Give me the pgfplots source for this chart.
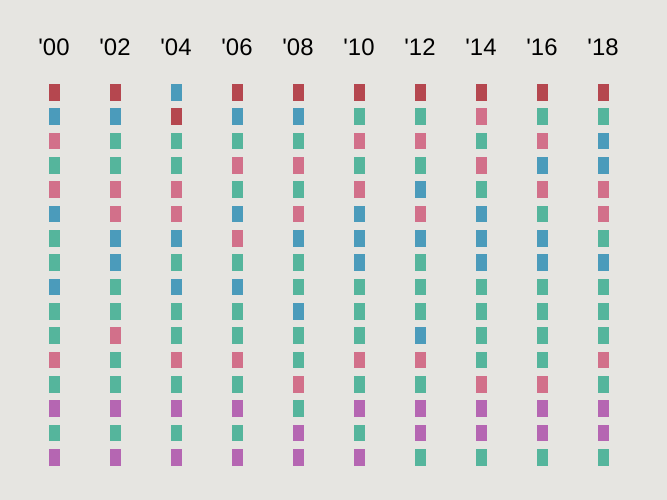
\documentclass[border=0pt]{standalone}
\usepackage{fontspec}
\setmainfont{Liberation Sans}
\usepackage{pgfplots}
\pgfplotsset{compat=1.18}
\definecolor{bg}{HTML}{E6E5E1}
\definecolor{cR}{HTML}{B5474F}
\definecolor{cB}{HTML}{4B9BBB}
\definecolor{cP}{HTML}{D2708A}
\definecolor{cG}{HTML}{55B59C}
\definecolor{cM}{HTML}{B566B2}
\tikzset{lbl/.style={font=\fontsize{24}{27}\selectfont, text=black}}
\begin{document}
\begin{tikzpicture}
\fill[bg] (0,0) rectangle (667bp,500bp);
\begin{axis}[at={(0,0)}, anchor=south west,
  width=667bp, height=500bp, scale only axis,
  hide axis, y dir=reverse,
  xmin=-0.885, xmax=10.049, ymin=-2.781, ymax=17.767,
  clip=false,
  every axis plot/.append style={only marks, mark=square*, mark size=5bp},
]
\addplot[mark options={yscale=1.55, fill=cR, draw=cR}] coordinates {(0,1)(1,1)(2,2)(3,1)(4,1)(5,1)(6,1)(7,1)(8,1)(9,1)};
\addplot[mark options={yscale=1.55, fill=cB, draw=cB}] coordinates {
(0,2)(0,6)(0,9)
(1,2)(1,7)(1,8)
(2,1)(2,7)(2,9)
(3,2)(3,6)(3,9)
(4,2)(4,7)(4,10)
(5,6)(5,7)(5,8)
(6,5)(6,7)(6,11)
(7,6)(7,7)(7,8)
(8,4)(8,7)(8,8)
(9,3)(9,4)(9,8)};
\addplot[mark options={yscale=1.55, fill=cP, draw=cP}] coordinates {
(0,3)(0,5)(0,12)
(1,5)(1,6)(1,11)
(2,5)(2,6)(2,12)
(3,4)(3,7)(3,12)
(4,4)(4,6)(4,13)
(5,3)(5,5)(5,12)
(6,3)(6,6)(6,12)
(7,2)(7,4)(7,13)
(8,3)(8,5)(8,13)
(9,5)(9,6)(9,12)};
\addplot[mark options={yscale=1.55, fill=cM, draw=cM}] coordinates {
(0,14)(0,16)(1,14)(1,16)(2,14)(2,16)(3,14)(3,16)(4,15)(4,16)
(5,14)(5,16)(6,14)(6,15)(7,14)(7,15)(8,14)(8,15)(9,14)(9,15)};
\addplot[mark options={yscale=1.55, fill=cG, draw=cG}] coordinates {
(0,4)(0,7)(0,8)(0,10)(0,11)(0,13)(0,15)
(1,3)(1,4)(1,9)(1,10)(1,12)(1,13)(1,15)
(2,3)(2,4)(2,8)(2,10)(2,11)(2,13)(2,15)
(3,3)(3,5)(3,8)(3,10)(3,11)(3,13)(3,15)
(4,3)(4,5)(4,8)(4,9)(4,11)(4,12)(4,14)
(5,2)(5,4)(5,9)(5,10)(5,11)(5,13)(5,15)
(6,2)(6,4)(6,8)(6,9)(6,10)(6,13)(6,16)
(7,3)(7,5)(7,9)(7,10)(7,11)(7,12)(7,16)
(8,2)(8,6)(8,9)(8,10)(8,11)(8,12)(8,16)
(9,2)(9,7)(9,9)(9,10)(9,11)(9,13)(9,16)};
\node[lbl] at (axis cs:0,-0.85) {\textquotesingle 00};
\node[lbl] at (axis cs:1,-0.85) {\textquotesingle 02};
\node[lbl] at (axis cs:2,-0.85) {\textquotesingle 04};
\node[lbl] at (axis cs:3,-0.85) {\textquotesingle 06};
\node[lbl] at (axis cs:4,-0.85) {\textquotesingle 08};
\node[lbl] at (axis cs:5,-0.85) {\textquotesingle 10};
\node[lbl] at (axis cs:6,-0.85) {\textquotesingle 12};
\node[lbl] at (axis cs:7,-0.85) {\textquotesingle 14};
\node[lbl] at (axis cs:8,-0.85) {\textquotesingle 16};
\node[lbl] at (axis cs:9,-0.85) {\textquotesingle 18};
\end{axis}
\end{tikzpicture}
\end{document}
